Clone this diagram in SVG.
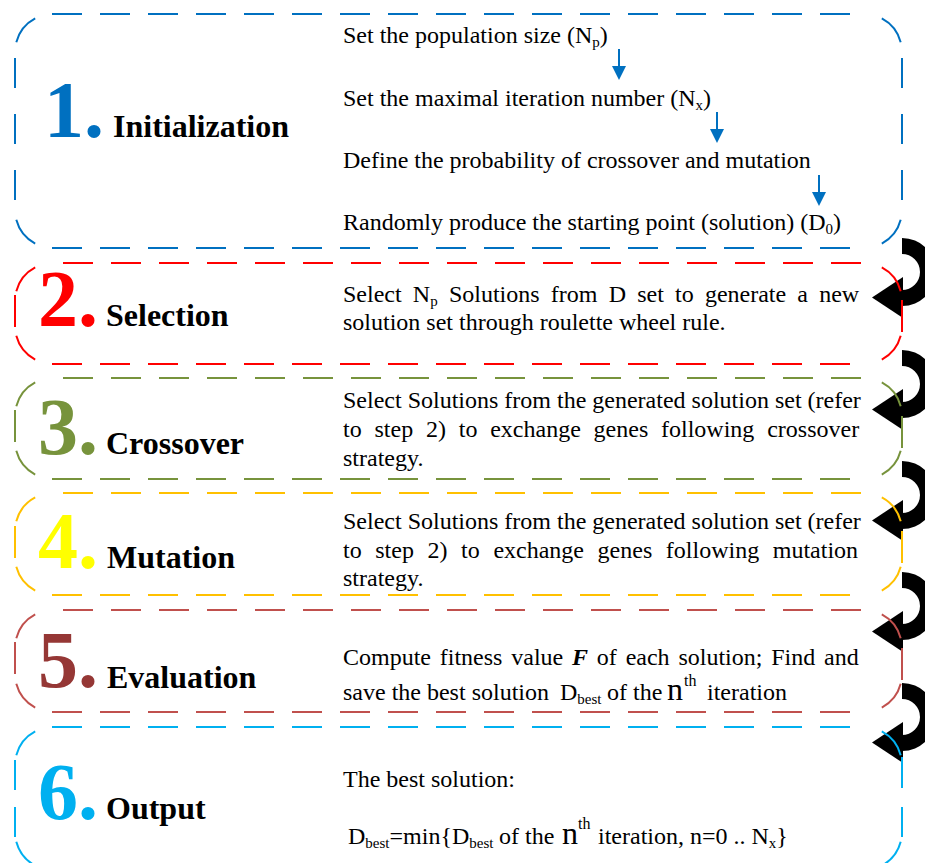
<svg xmlns="http://www.w3.org/2000/svg" width="925" height="863" viewBox="0 0 925 863">
  <defs>
    <style>
      .edge{fill:none;stroke-width:2}
      .dash{stroke-dasharray:30 18}
      .body{font-family:"Liberation Serif","Times New Roman",serif;font-size:24px;fill:#000}
      .sub{font-size:15px}
      .big{font-size:32px}
      .sup{font-size:16px}
      .num{font-family:"Liberation Serif","Times New Roman",serif;font-size:80px;font-weight:bold}
      .title{font-family:"Liberation Serif","Times New Roman",serif;font-size:32px;font-weight:bold;fill:#000}
      .flow{fill:none;stroke:#0070C0;stroke-width:2;marker-end:url(#blueHead)}
      .bi{font-weight:bold;font-style:italic}
    </style>
    <marker id="blueHead" viewBox="0 0 10 10" markerWidth="7" markerHeight="7" refX="5.7" refY="5" orient="auto" markerUnits="strokeWidth">
      <path d="M0,0 L10,5 L0,10 Z" fill="#0070C0"/>
    </marker>
    <!-- thick U-turn arrow that loops back into the next step -->
    <g id="turn" fill="#000">
      <path d="M902,0 A34,34 0 0 1 902,68 L902,52 A18,18 0 0 0 902,16 Z"/>
      <path d="M903,39 L903,80 L872,59.5 Z"/>
    </g>
  </defs>

  <rect width="925" height="863" fill="#fff"/>

  <!-- loop-back arrows between the steps -->
  <g id="connectors">
    <use href="#turn" y="238"/>
    <use href="#turn" y="350"/>
    <use href="#turn" y="461"/>
    <use href="#turn" y="572"/>
    <use href="#turn" y="683"/>
  </g>

  <!-- Step 1 -->
  <g id="step1">
    <g stroke="#0070C0" class="edge">
      <path class="dash" d="M52,14 H850 M52,248 H850"/>
      <path stroke-dasharray="30 26" d="M15,58 V218 M902,58 V218"/>
      <path d="M16.3,42.2 A38,38 0 0 1 35.2,18.4 M881.8,18.4 A38,38 0 0 1 900.7,42.2 M900.7,219.8 A38,38 0 0 1 881.8,243.6 M35.2,243.6 A38,38 0 0 1 16.3,219.8"/>
    </g>
    <text class="num" x="44" y="137" fill="#0070C0">1.</text>
    <text class="title" x="113" y="137">Initialization</text>
    <text class="body" x="343" y="43">Set the population size (N<tspan class="sub" dy="4">p</tspan><tspan dy="-4">)</tspan></text>
    <text class="body" x="343" y="106">Set the maximal iteration number (N<tspan class="sub" dy="4">x</tspan><tspan dy="-4">)</tspan></text>
    <text class="body" x="343" y="168">Define the probability of crossover and mutation</text>
    <text class="body" x="343" y="230">Randomly produce the starting point (solution) (D<tspan class="sub" dy="4">0</tspan><tspan dy="-4">)</tspan></text>
    <path class="flow" d="M619,49 V74"/>
    <path class="flow" d="M717,112 V137"/>
    <path class="flow" d="M819,175 V200"/>
  </g>

  <!-- Step 2 -->
  <g id="step2">
    <g stroke="#FF0000" class="edge">
      <path class="dash" d="M63,263 H861 M52,364 H850"/>
      <path d="M15,295 V327 M902,300 V332"/>
      <path d="M16.3,291.2 A38,38 0 0 1 35.2,267.4 M881.8,267.4 A38,38 0 0 1 900.7,291.2 M900.7,335.8 A38,38 0 0 1 881.8,359.6 M35.2,359.6 A38,38 0 0 1 16.3,335.8"/>
    </g>
    <text class="num" x="38" y="326" fill="#FF0000">2.</text>
    <text class="title" x="106" y="326">Selection</text>
    <text class="body" x="343" y="302" word-spacing="5.2">Select N<tspan class="sub" dy="4">p</tspan><tspan dy="-4"> Solutions from D set to generate a new</tspan></text>
    <text class="body" x="343" y="330">solution set through roulette wheel rule.</text>
  </g>

  <!-- Step 3 -->
  <g id="step3">
    <g stroke="#77933C" class="edge">
      <path class="dash" d="M63,378 H861 M52,479 H850"/>
      <path d="M15,410 V442 M902,416 V448"/>
      <path d="M16.3,406.2 A38,38 0 0 1 35.2,382.4 M881.8,382.4 A38,38 0 0 1 900.7,406.2 M900.7,450.8 A38,38 0 0 1 881.8,474.6 M35.2,474.6 A38,38 0 0 1 16.3,450.8"/>
    </g>
    <text class="num" x="38" y="454" fill="#77933C">3.</text>
    <text class="title" x="106" y="454">Crossover</text>
    <text class="body" x="343" y="408">Select Solutions from the generated solution set (refer</text>
    <text class="body" x="343" y="437" word-spacing="6.8">to step 2) to exchange genes following crossover</text>
    <text class="body" x="343" y="466">strategy.</text>
  </g>

  <!-- Step 4 -->
  <g id="step4">
    <g stroke="#FFC000" class="edge">
      <path class="dash" d="M63,493 H861 M52,595 H850"/>
      <path d="M15,526 V558 M902,531 V563"/>
      <path d="M16.3,521.2 A38,38 0 0 1 35.2,497.4 M881.8,497.4 A38,38 0 0 1 900.7,521.2 M900.7,566.8 A38,38 0 0 1 881.8,590.6 M35.2,590.6 A38,38 0 0 1 16.3,566.8"/>
    </g>
    <text class="num" x="38" y="568" fill="#FFFF00">4.</text>
    <text class="title" x="107" y="568">Mutation</text>
    <text class="body" x="343" y="529">Select Solutions from the generated solution set (refer</text>
    <text class="body" x="343" y="558" word-spacing="7.6">to step 2) to exchange genes following mutation</text>
    <text class="body" x="343" y="586">strategy.</text>
  </g>

  <!-- Step 5 -->
  <g id="step5">
    <g stroke="#C0504D" class="edge">
      <path class="dash" d="M63,610 H861 M52,712 H850"/>
      <path d="M15,642 V674 M902,648 V680"/>
      <path d="M16.3,638.2 A38,38 0 0 1 35.2,614.4 M881.8,614.4 A38,38 0 0 1 900.7,638.2 M900.7,683.8 A38,38 0 0 1 881.8,707.6 M35.2,707.6 A38,38 0 0 1 16.3,683.8"/>
    </g>
    <text class="num" x="38" y="687" fill="#953735">5.</text>
    <text class="title" x="107" y="688">Evaluation</text>
    <text class="body" x="343" y="665" word-spacing="2.8">Compute fitness value <tspan class="bi">F</tspan> of each solution; Find and</text>
    <text class="body" x="343" y="700">save the best solution<tspan x="560">D</tspan><tspan class="sub" dy="4">best</tspan><tspan x="607" dy="-4">of the</tspan><tspan class="big" x="667">n</tspan><tspan class="sup" x="684" dy="-14">th</tspan><tspan x="707" dy="14">iteration</tspan></text>
  </g>

  <!-- Step 6 -->
  <g id="step6">
    <g stroke="#00B0F0" class="edge">
      <path class="dash" d="M52,727 H850"/>
      <path d="M15,760 V790 M15,807 V837 M902,757 V788 M902,807 V837"/>
      <path d="M16.3,755.2 A38,38 0 0 1 35.2,731.4 M881.8,731.4 A38,38 0 0 1 900.7,755.2 M900.7,841.8 A38,38 0 0 1 881.8,865.6 M35.2,865.6 A38,38 0 0 1 16.3,841.8"/>
    </g>
    <text class="num" x="38" y="819" fill="#00B0F0">6.</text>
    <text class="title" x="106" y="819">Output</text>
    <text class="body" x="343" y="787">The best solution:</text>
    <text class="body" x="348" y="844">D<tspan class="sub" dy="4">best</tspan><tspan dy="-4">=min{D</tspan><tspan class="sub" dy="4">best</tspan><tspan x="499" dy="-4">of the</tspan><tspan class="big" x="562">n</tspan><tspan class="sup" x="578" dy="-15">th</tspan><tspan x="598" dy="15">iteration, n=0 .. N</tspan><tspan class="sub" dy="4">x</tspan><tspan dy="-4">}</tspan></text>
  </g>
</svg>
